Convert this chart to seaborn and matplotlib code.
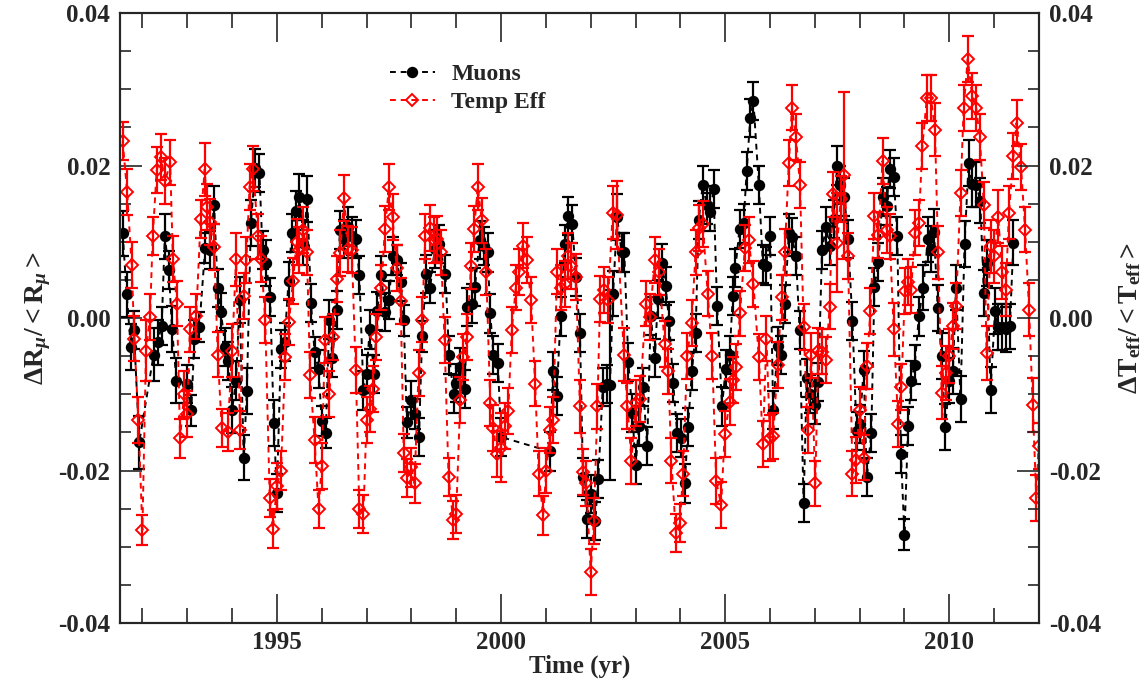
import numpy as np
import pandas as pd
import matplotlib
matplotlib.use("Agg")
import matplotlib.pyplot as plt
import seaborn as sns
from matplotlib.ticker import MultipleLocator, FormatStrFormatter
from matplotlib.lines import Line2D

# ---------------- data (values in units of 1e-3) ----------------
muon_t = [1991.56, 1991.65, 1991.74, 1991.81, 1991.93,
          1992.25, 1992.34, 1992.43, 1992.50, 1992.59, 1992.66, 1992.76, 1992.99,
          1993.09, 1993.16, 1993.27, 1993.40, 1993.50, 1993.60, 1993.68, 1993.75, 1993.85, 1993.92,
          1994.00, 1994.09, 1994.17, 1994.26, 1994.33, 1994.42, 1994.52, 1994.61, 1994.68, 1994.76, 1994.85, 1994.93,
          1995.00, 1995.09, 1995.17, 1995.26, 1995.33, 1995.42, 1995.50, 1995.59, 1995.68, 1995.76, 1995.84, 1995.93,
          1996.00, 1996.09, 1996.17, 1996.24, 1996.33, 1996.41, 1996.50, 1996.59, 1996.67, 1996.76, 1996.84, 1996.93,
          1997.00, 1997.07, 1997.17, 1997.24, 1997.33, 1997.41, 1997.50, 1997.58, 1997.67, 1997.76, 1997.83, 1997.90,
          1998.00, 1998.09, 1998.17, 1998.24, 1998.33, 1998.42, 1998.52, 1998.62, 1998.76, 1998.84, 1998.94,
          1999.00, 1999.09, 1999.19, 1999.25, 1999.35, 1999.42, 1999.52, 1999.61, 1999.70, 1999.76, 1999.83, 1999.93,
          2000.00,
          2001.09, 2001.16, 2001.24, 2001.33, 2001.42, 2001.50, 2001.59, 2001.67, 2001.76, 2001.83, 2001.92,
          2002.00, 2002.10, 2002.17, 2002.27, 2002.36, 2002.43, 2002.50, 2002.59, 2002.69, 2002.75, 2002.84, 2002.93,
          2003.00, 2003.08, 2003.17, 2003.26, 2003.34, 2003.43, 2003.50, 2003.58, 2003.67, 2003.75, 2003.84, 2003.93,
          2004.01, 2004.10, 2004.17, 2004.26, 2004.34, 2004.41, 2004.50, 2004.59, 2004.67, 2004.74, 2004.82, 2004.93,
          2005.01, 2005.10, 2005.17, 2005.23, 2005.32, 2005.41, 2005.48, 2005.56, 2005.63, 2005.75, 2005.84, 2005.91,
          2006.00, 2006.07, 2006.17, 2006.25, 2006.33, 2006.42, 2006.49, 2006.58, 2006.66, 2006.75, 2006.82, 2006.90,
          2007.00, 2007.08, 2007.16, 2007.25, 2007.33, 2007.42, 2007.50, 2007.57, 2007.66, 2007.74, 2007.84, 2007.93,
          2008.00, 2008.09, 2008.16, 2008.26, 2008.33, 2008.42, 2008.51, 2008.60, 2008.67, 2008.76, 2008.84, 2008.92,
          2009.00, 2009.08, 2009.15, 2009.23, 2009.32, 2009.42, 2009.52, 2009.60, 2009.66, 2009.74, 2009.83, 2009.91,
          2010.00, 2010.08, 2010.15, 2010.25, 2010.34, 2010.43, 2010.51, 2010.60, 2010.69, 2010.77, 2010.84, 2010.92,
          2011.02, 2011.09, 2011.18, 2011.26, 2011.35, 2011.43]

muon_v = [11.1, 3.1, -3.8, -1.6, -16.3,
          -4.8, -3.2, -1.0, 10.7, 6.3, -1.4, -8.2, -8.6,
          -12.1, -2.8, -1.2, 9.2, 8.9, 14.8, 3.9, 0.8, -3.8, -5.6,
          -12.1, -8.2, 2.4, -18.3, -9.6, 12.5, 19.7, 19.0, 8.9, 7.2, 2.7, -13.8,
          -23.0, -4.1, -3.2, 4.8, 11.1, 14.1, 15.9, 9.9, 15.6, 2.0, -4.5, -6.7,
          -13.5, -15.1, -0.2, -5.3, 1.1, 11.6, 10.4, 12.0, 10.7, 10.4, 5.6, -9.5,
          -7.3, -1.5, -7.3, 0.9, 5.6, 0.8, 2.4, 8.1, 7.6, 4.7, -0.3, -13.7,
          -10.8, -12.6, -15.6, -2.4, 5.8, 4.0, 9.0, 9.7, 5.8, -4.8, -10.0,
          -8.5, -6.4, -9.3, 1.5, 1.9, 4.1, 10.2, 9.4, 8.6, 0.6, -4.8, -5.9,
          -15.6,
          -17.5, -7.0, -10.2, 0.2, 9.7, 13.4, 12.3, 5.4, -2.0, -20.9, -26.4,
          -23.1, -26.6, -21.1, -9.1, -8.6, -8.8, 3.2, 13.2, 8.6, 8.6, -5.8, -12.4,
          -19.3, -14.1, -9.1, -16.8, 0.3, -5.3, 2.5, 7.2, 4.2, -0.4, -8.5, -15.1,
          -15.7, -21.7, -14.3, -6.9, -2.0, 12.9, 17.5, 14.8, 13.9, 16.9, 1.6, -11.6,
          -6.7, -4.8, 2.9, 6.6, 11.7, 12.4, 19.3, 26.2, 28.5, 17.5, 7.1, 6.8,
          10.8, -12.1, -3.7, -4.8, 1.8, 11.1, 10.6, 8.1, -1.6, -24.3, -7.9, -10.0,
          -11.4, -8.4, 8.9, 12.0, 9.4, 13.0, 20.0, 17.5, 15.9, 10.4, -0.4, -14.8,
          -13.9, -6.8, -20.9, -15.1, 4.1, 7.3, 15.9, 14.7, 19.6, 18.5, 10.7, -17.8,
          -28.4, -14.2, -8.2, -6.1, 0.2, 4.0, 10.3, 9.1, 11.3, 1.3, -5.0, -14.3,
          -8.2, -6.9, 4.0, -10.6, 9.7, 20.3, 17.6, 17.5, 15.4, 3.3, 7.2, -9.4,
          0.9, -1.2, -1.2, -1.5, -1.1, 9.9]

muon_e = [3.0, 3.0, 3.0, 2.5, 3.5,
          3.5, 3.0, 2.5, 3.0, 2.5, 3.0, 3.0, 2.5,
          2.0, 2.5, 2.0, 2.0, 2.5, 2.5, 2.5, 2.5, 2.5, 2.5,
          3.0, 2.5, 3.0, 3.0, 3.0, 3.0, 2.5, 2.5, 2.5, 3.0, 2.5, 3.0,
          2.5, 2.5, 2.5, 2.5, 2.5, 2.5, 3.0, 3.0, 3.0, 2.5, 2.0, 2.5,
          2.0, 2.0, 2.5, 2.5, 2.5, 2.5, 2.5, 2.5, 2.5, 2.5, 2.5, 2.5,
          2.5, 2.5, 2.5, 2.5, 2.5, 2.5, 2.5, 2.5, 2.0, 2.5, 2.0, 2.0,
          2.5, 2.0, 2.5, 2.0, 2.5, 2.0, 2.5, 2.5, 2.5, 2.5, 2.5,
          2.5, 2.5, 2.5, 2.5, 2.5, 2.5, 2.5, 2.5, 2.5, 2.5, 2.5, 2.5,
          2.5,
          2.5, 2.5, 2.5, 2.5, 2.5, 2.5, 2.5, 2.5, 2.5, 2.5, 2.5,
          2.5, 2.5, 2.5, 2.5, 2.5, 12.5, 3.0, 3.0, 2.5, 2.5, 2.5, 2.5,
          2.5, 2.5, 2.5, 2.5, 2.5, 2.5, 2.5, 2.5, 2.5, 2.5, 2.5, 2.5,
          2.5, 2.5, 2.5, 2.5, 2.5, 2.5, 2.5, 2.5, 2.5, 2.5, 2.5, 2.5,
          2.5, 2.5, 2.5, 2.5, 2.5, 2.5, 2.5, 2.5, 2.5, 2.5, 2.5, 2.5,
          2.5, 2.5, 2.5, 2.5, 2.5, 2.5, 2.5, 2.5, 2.5, 2.5, 2.5, 2.5,
          2.5, 2.5, 2.5, 2.5, 2.5, 2.5, 2.5, 2.5, 2.5, 2.5, 2.5, 2.5,
          2.5, 2.5, 2.5, 2.5, 2.5, 2.5, 2.5, 2.5, 2.5, 2.5, 2.5, 2.5,
          2.0, 2.5, 2.5, 2.5, 2.5, 3.0, 3.0, 3.0, 3.0, 3.0, 3.0, 3.0,
          3.0, 3.0, 3.0, 3.0, 3.0, 3.0, 3.0, 3.0, 3.0, 3.0, 3.0, 3.0,
          3.0, 3.0, 3.0, 3.0, 3.0, 3.0]

temp_t = [1991.56, 1991.66, 1991.76, 1991.82, 1991.91,
          1992.00, 1992.08, 1992.17, 1992.23, 1992.32, 1992.41, 1992.51, 1992.62, 1992.68, 1992.77, 1992.84, 1992.93,
          1993.00, 1993.06, 1993.20, 1993.30, 1993.39, 1993.44, 1993.50, 1993.60, 1993.68, 1993.77, 1993.90,
          1994.00, 1994.09, 1994.18, 1994.26, 1994.32, 1994.39, 1994.47, 1994.58, 1994.65, 1994.74, 1994.84, 1994.91,
          1995.00, 1995.09, 1995.19, 1995.27, 1995.36, 1995.44, 1995.50, 1995.59, 1995.67, 1995.74, 1995.84, 1995.93,
          1996.00, 1996.07, 1996.17, 1996.25, 1996.33, 1996.41, 1996.50, 1996.59, 1996.67, 1996.76, 1996.84, 1996.93,
          1997.00, 1997.07, 1997.15, 1997.22, 1997.33, 1997.41, 1997.50, 1997.58, 1997.67, 1997.76, 1997.83, 1997.91,
          1998.00, 1998.07, 1998.16, 1998.24, 1998.31, 1998.41, 1998.50, 1998.57, 1998.66, 1998.74, 1998.83, 1998.93,
          1999.00, 1999.09, 1999.16, 1999.24, 1999.33, 1999.40, 1999.48, 1999.57, 1999.67, 1999.76, 1999.83, 1999.90,
          2000.00, 2000.09, 2000.16, 2000.24, 2000.33, 2000.41, 2000.48, 2000.57, 2000.67, 2000.76, 2000.84, 2000.94,
          2001.01, 2001.09, 2001.16, 2001.25, 2001.33, 2001.42, 2001.50, 2001.57, 2001.67, 2001.76, 2001.83, 2001.90,
          2002.00, 2002.07, 2002.15, 2002.21, 2002.30, 2002.39, 2002.49, 2002.58, 2002.74, 2002.82, 2002.91,
          2003.00, 2003.10, 2003.23, 2003.32, 2003.43, 2003.52, 2003.65, 2003.73, 2003.80, 2003.90, 2003.99,
          2004.06, 2004.15, 2004.25, 2004.34, 2004.41, 2004.50, 2004.61, 2004.71, 2004.80, 2004.91, 2004.99,
          2005.10, 2005.17, 2005.25, 2005.33, 2005.44, 2005.53, 2005.63, 2005.75, 2005.84, 2005.92,
          2006.00, 2006.07, 2006.17, 2006.26, 2006.33, 2006.42, 2006.49, 2006.58, 2006.67, 2006.75, 2006.84, 2006.92,
          2007.01, 2007.08, 2007.16, 2007.25, 2007.33, 2007.40, 2007.50, 2007.58, 2007.66, 2007.74, 2007.84, 2007.91,
          2008.00, 2008.09, 2008.16, 2008.24, 2008.33, 2008.42, 2008.51, 2008.60, 2008.67, 2008.76, 2008.86, 2008.93,
          2009.01, 2009.08, 2009.15, 2009.23, 2009.32, 2009.40, 2009.50, 2009.59, 2009.68, 2009.75, 2009.83, 2009.92,
          2010.00, 2010.08, 2010.15, 2010.25, 2010.32, 2010.41, 2010.51, 2010.60, 2010.68, 2010.77, 2010.83, 2010.92,
          2011.00, 2011.09, 2011.18, 2011.26, 2011.33, 2011.43, 2011.50, 2011.60, 2011.69, 2011.78, 2011.86, 2011.94, 2011.99]

temp_v = [23.2, 16.5, 7.0, -2.7, -13.4,
          -27.8, -4.3, 0.1, 10.7, 19.4, 21.1, 18.0, 20.4, 7.7, 1.9, -15.8, -10.0,
          -12.6, -1.5, 0.2, 13.0, 19.5, 14.6, 12.6, 9.3, -4.8, -14.4, -15.0,
          -4.3, 7.7, -14.7, 2.9, 7.6, 17.2, 19.6, 10.7, 7.7, -0.3, -23.6, -27.7,
          -22.0, -20.0, -5.1, -0.5, 4.9, 10.0, 8.9, 11.5, 8.6, -7.5, -16.0, -25.1,
          -19.4, -2.9, -10.0, -2.5, 5.1, 8.5, 15.7, 9.1, 8.9, -6.8, -25.1, -25.7,
          -13.4, -11.9, -9.3, -2.5, 4.0, 11.7, 17.2, 13.2, 6.6, 2.2, -17.7, -21.0,
          -19.6, -21.7, -7.2, -0.2, 10.7, 11.8, 10.2, 10.4, 8.6, -2.9, -20.9, -26.5,
          -25.7, -10.8, -5.1, -2.5, 6.8, 11.7, 17.2, 12.8, 6.0, -11.1, -14.4, -17.8,
          -17.0, -14.2, -12.2, -1.6, 4.0, 6.0, 9.5, 7.6, 2.4, -8.6, -20.4, -25.9,
          -20.0, -14.7, -13.4, 6.1, 4.0, 4.5, 8.1, 6.8, 5.4, -11.6, -20.2, -21.7,
          -33.3, -26.6, -11.6, 2.5, 3.7, 2.4, 13.8, 13.5, -4.8, -11.5, -18.8,
          -11.1, -10.6, 1.9, 0.1, 7.6, 6.0, -3.4, -7.0, -18.7, -28.2, -26.9,
          -20.4, -5.0, -0.7, 8.6, 11.8, 12.3, 3.2, -5.0, -21.4, -24.5, -15.2,
          -11.0, -8.1, -6.4, 0.6, 9.2, 10.2, 4.5, -5.1, -16.5, -2.7,
          -15.7, -15.5, -6.2, 2.7, 8.7, 20.3, 27.6, 23.7, 17.4, -1.2, -14.7, -4.9,
          -21.7, -4.3, -4.4, -5.5, 1.5, 16.2, 9.9, 15.6, 18.7, 8.1, -20.4, -18.6,
          -12.1, -18.3, -6.3, 0.9, 13.4, 10.9, 20.6, 11.5, 10.7, -1.5, -13.9, -9.0,
          3.5, 4.7, 3.7, 11.2, 12.5, 22.6, 28.9, 28.9, 24.7, 8.6, -9.8, -7.2,
          -5.0, -1.0, 1.6, 16.4, 27.5, 34.0, 29.1, 27.5, 23.7, 14.8, -4.6, 9.4,
          8.1, 13.3, 6.0, 3.7, 13.8, 21.2, 25.6, 19.8, 11.6, 1.1, -11.4, -23.6, -16.8]

temp_e = [2.5, 3.0, 3.0, 3.0, 3.0,
          2.0, 4.0, 3.0, 2.5, 3.0, 3.0, 3.0, 3.0, 3.0, 3.0, 2.5, 3.0,
          3.0, 3.0, 3.0, 2.5, 3.5, 3.0, 3.0, 3.0, 3.0, 2.5, 2.5,
          3.5, 3.5, 2.5, 3.0, 3.0, 3.0, 3.0, 3.0, 3.0, 3.0, 2.5, 2.5,
          3.0, 2.5, 3.0, 3.0, 3.0, 3.0, 3.0, 3.0, 3.0, 3.0, 3.0, 2.5,
          3.0, 3.0, 3.0, 3.0, 3.0, 3.0, 3.0, 3.0, 3.0, 3.0, 2.5, 2.5,
          3.0, 3.0, 3.0, 3.0, 3.0, 3.0, 3.0, 3.0, 3.0, 3.0, 2.5, 2.5,
          2.5, 2.5, 3.0, 3.0, 3.0, 3.0, 3.0, 3.0, 3.0, 3.0, 2.5, 2.5,
          2.5, 3.0, 3.0, 3.0, 3.0, 3.0, 3.0, 3.0, 3.0, 3.0, 3.0, 3.0,
          4.5, 3.0, 3.0, 3.0, 3.0, 3.0, 3.0, 3.0, 3.0, 3.0, 3.0, 2.5,
          3.0, 3.0, 3.0, 3.0, 3.0, 3.0, 3.0, 3.0, 3.0, 3.5, 3.0, 3.0,
          3.0, 3.0, 3.0, 3.0, 3.0, 3.0, 3.5, 4.5, 3.5, 3.0, 3.0,
          3.0, 3.0, 3.0, 3.0, 3.0, 3.0, 3.0, 3.0, 3.0, 2.5, 2.5,
          3.0, 3.0, 3.0, 3.0, 3.0, 3.0, 3.0, 3.0, 3.0, 3.0, 3.0,
          3.0, 3.0, 3.0, 3.0, 3.0, 3.0, 3.0, 3.0, 3.0, 3.0,
          3.0, 3.0, 3.0, 3.0, 3.0, 3.0, 3.0, 3.0, 3.0, 3.0, 3.0, 3.0,
          3.0, 3.0, 3.0, 3.0, 3.0, 3.0, 6.5, 3.0, 11.0, 3.0, 3.0, 3.0,
          3.0, 3.0, 3.0, 3.0, 3.0, 3.0, 3.0, 3.0, 3.0, 3.5, 3.0, 3.0,
          3.0, 3.0, 3.0, 3.0, 3.0, 3.0, 3.0, 3.0, 3.5, 3.5, 3.5, 3.5,
          3.5, 3.0, 3.0, 3.0, 3.0, 3.0, 3.0, 3.0, 3.0, 3.0, 3.5, 3.5,
          3.5, 3.5, 3.5, 3.5, 3.5, 3.0, 3.0, 3.0, 3.0, 3.5, 3.5, 3.0, 3.0]

x_major_ticks = [1995, 2000, 2005, 2010]
y_ticks = [-0.04, -0.02, 0.00, 0.02, 0.04]
series_names = ["Muons", "Temp Eff"]

# ---------------- styling ----------------
sns.set_style("ticks")
plt.rcParams.update({
    "font.family": ["Liberation Serif", "DejaVu Serif"],
    "font.weight": "bold",
    "axes.labelweight": "bold",
    "mathtext.fontset": "custom",
    "mathtext.rm": "Liberation Serif:bold",
    "mathtext.bf": "Liberation Serif:bold",
    "mathtext.it": "Liberation Serif:italic:bold",
    "axes.unicode_minus": False,
    "xtick.direction": "in",
    "ytick.direction": "in",
})

scale = 1e-3
muons = pd.DataFrame({"t": muon_t, "v": np.array(muon_v) * scale, "e": np.array(muon_e) * scale})
temp = pd.DataFrame({"t": temp_t, "v": np.array(temp_v) * scale, "e": np.array(temp_e) * scale})

fig = plt.figure(figsize=(11.46, 6.82), dpi=100)
ax = fig.add_axes([0.1047, 0.0865, 0.8019, 0.8944])

dash = (0, (3.0, 2.5))
circ_ms = 8.2
diam_ms = 6.6

# Muons
ax.errorbar(muons["t"], muons["v"], yerr=muons["e"], fmt="none", ecolor="black",
            elinewidth=1.6, capsize=4, capthick=1.6, zorder=2)
sns.lineplot(data=muons, x="t", y="v", ax=ax, color="black", linestyle=dash, linewidth=1.4,
             marker="o", markersize=circ_ms, markeredgewidth=0, markerfacecolor="black",
             sort=False, estimator=None, errorbar=None, zorder=3)

# Temp Eff
ax.errorbar(temp["t"], temp["v"], yerr=temp["e"], fmt="none", ecolor="red",
            elinewidth=1.6, capsize=4, capthick=1.6, zorder=4)
sns.lineplot(data=temp, x="t", y="v", ax=ax, color="red", linestyle=dash, linewidth=1.4,
             marker="D", markersize=diam_ms, markeredgewidth=1.4, markerfacecolor="none",
             markeredgecolor="red", sort=False, estimator=None, errorbar=None, zorder=5)

ax.set_xlim(1991.5, 2012.0)
ax.set_ylim(-0.04, 0.04)
ax.xaxis.set_major_locator(matplotlib.ticker.FixedLocator(x_major_ticks))
ax.xaxis.set_minor_locator(MultipleLocator(1))
ax.yaxis.set_major_locator(matplotlib.ticker.FixedLocator(y_ticks))
ax.yaxis.set_minor_locator(MultipleLocator(0.005))
ax.yaxis.set_major_formatter(FormatStrFormatter("%.2f"))

ax.tick_params(axis="x", which="major", length=21, width=1.2, top=True, bottom=True, labelsize=18, pad=6)
ax.tick_params(axis="x", which="minor", length=10.5, width=1.2, top=True, bottom=True)
ax.tick_params(axis="y", which="major", length=16, width=1.2, left=True, right=False, labelsize=18, pad=7)
ax.tick_params(axis="y", which="minor", length=8, width=1.2, left=True, right=False)
for lab in ax.get_xticklabels() + ax.get_yticklabels():
    lab.set_fontweight("bold")

for sp in ax.spines.values():
    sp.set_linewidth(1.5)
    sp.set_color("black")

ax2 = ax.twinx()
ax2.set_ylim(ax.get_ylim())
ax2.yaxis.set_major_locator(matplotlib.ticker.FixedLocator(y_ticks))
ax2.yaxis.set_minor_locator(MultipleLocator(0.005))
ax2.yaxis.set_major_formatter(FormatStrFormatter("%.2f"))
ax2.tick_params(axis="y", which="major", length=16, width=1.2, labelsize=18, pad=7)
ax2.tick_params(axis="y", which="minor", length=8, width=1.2)
for lab in ax2.get_yticklabels():
    lab.set_fontweight("bold")
for sp in ax2.spines.values():
    sp.set_linewidth(1.5)

ax.set_xlabel("Time (yr)", fontsize=18, fontweight="bold", labelpad=0)
ax.set_ylabel(r"$\Delta\mathrm{R}_{\mu}/<\mathrm{R}_{\mu}>$", fontsize=20, labelpad=4)
ax2.set_ylabel(r"$\Delta\mathrm{T}_{\mathrm{eff}}/<\mathrm{T}_{\mathrm{eff}}>$", fontsize=20, labelpad=12)

handles = [
    Line2D([], [], color="black", linestyle=dash, linewidth=1.4, marker="o", markersize=circ_ms,
           markeredgewidth=0),
    Line2D([], [], color="red", linestyle=dash, linewidth=1.4, marker="D", markersize=diam_ms,
           markeredgewidth=1.4, markerfacecolor="none"),
]
ax.legend(handles, series_names, loc="upper left",
          bbox_to_anchor=(378 / 1146, 1 - 52 / 682), bbox_transform=fig.transFigure,
          frameon=False, borderpad=0, handlelength=1.9, handletextpad=0.7,
          labelspacing=0.25, prop={"family": "Liberation Serif", "weight": "bold", "size": 17})

fig.savefig("out.png", dpi=100)
